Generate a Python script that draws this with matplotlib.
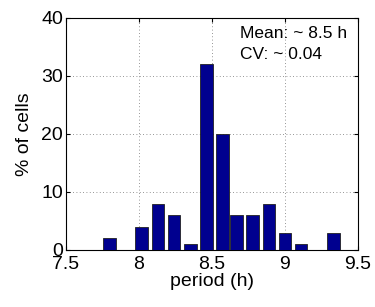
import matplotlib
matplotlib.use('Agg')
import matplotlib.pyplot as plt

# period histogram (bin centres in h, % of cells)
periods = [7.80, 7.91, 8.02, 8.13, 8.24, 8.35, 8.46, 8.57, 8.67, 8.78, 8.89, 9.00, 9.11, 9.22, 9.33]
percent = [2, 0, 4, 8, 6, 1, 32, 20, 6, 6, 8, 3, 1, 0, 3]
xticks = [7.5, 8, 8.5, 9, 9.5]
yticks = [0, 10, 20, 30, 40]

plt.rcParams['font.family'] = ['Liberation Sans', 'DejaVu Sans']

fig = plt.figure(figsize=(3.75, 3.07), dpi=100)
ax = fig.add_axes([66/375, 57/307, 292/375, 232/307])

ax.bar(periods, percent, width=0.088, color='#00008f', edgecolor='#202020', linewidth=0.6, zorder=3)

ax.set_xlim(7.5, 9.5)
ax.set_ylim(0, 40)
ax.set_xticks(xticks)
ax.set_xticklabels(['7.5', '8', '8.5', '9', '9.5'])
ax.set_yticks(yticks)
ax.grid(True, linestyle=(0, (1, 3)), color='0.45', linewidth=0.6, zorder=0)
ax.tick_params(direction='in', top=True, right=True, length=3, labelsize=14, pad=2)
ax.tick_params(axis='x', pad=4)
for s in ax.spines.values():
	s.set_linewidth(0.8)

ax.set_xlabel('period (h)', fontsize=14, labelpad=0)
ax.set_ylabel('% of cells', fontsize=14, labelpad=6)

ax.text(0.596, 0.914, 'Mean: ~ 8.5 h', transform=ax.transAxes, fontsize=12.5, va='baseline', zorder=4)
ax.text(0.596, 0.823, 'CV: ~ 0.04', transform=ax.transAxes, fontsize=12.5, va='baseline', zorder=4)

fig.savefig('out.png', dpi=100)
